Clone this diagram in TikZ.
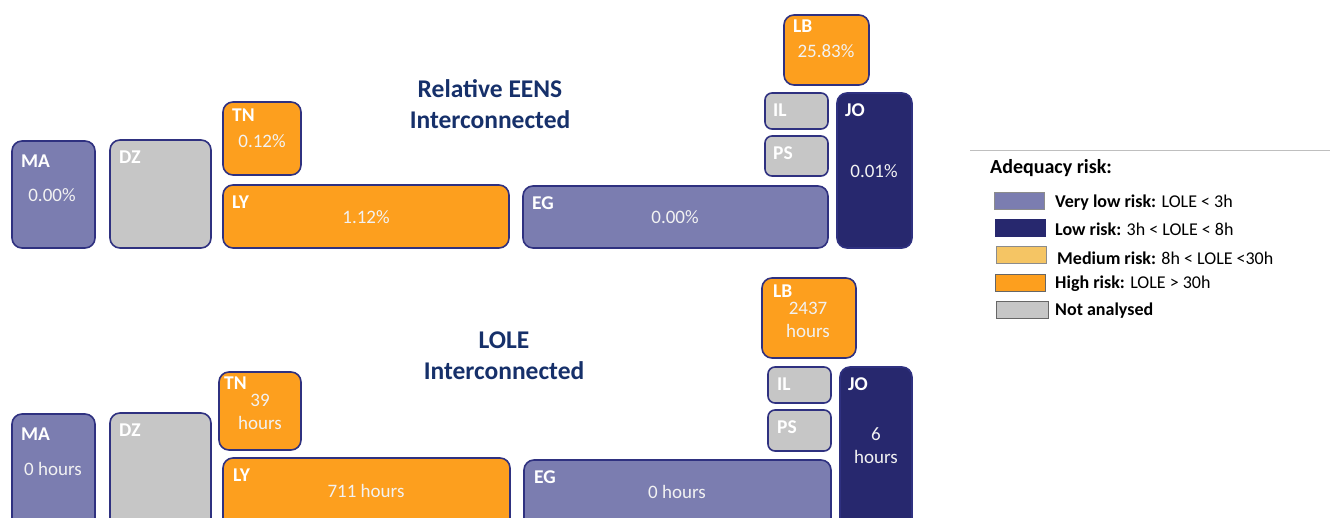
\documentclass[tikz,border=0pt]{standalone}
\usepackage{fontspec}
\setmainfont{Carlito}
\usepackage{tikz}
\definecolor{riskVeryLow}{HTML}{7B7DB0}
\definecolor{riskLow}{HTML}{27286E}
\definecolor{riskMedium}{HTML}{F5C564}
\definecolor{riskHigh}{HTML}{FD9F1E}
\definecolor{notAnalysed}{HTML}{C6C6C6}
\definecolor{tileEdge}{HTML}{2F3180}
\definecolor{titleNavy}{HTML}{16306A}
\tikzset{
  code/.style={anchor=west, inner sep=0pt, text=white, font=\bfseries\fontsize{19.5}{22}\selectfont},
  val/.style={inner sep=0pt, text=white!95!black, align=center, font=\fontsize{19}{23}\selectfont},
}

\begin{document}
\begin{tikzpicture}[x=1pt, y=-1pt,
  tile/.style={draw=tileEdge, line width=1.6pt, rounded corners=10pt, inner sep=0pt},
  ttl/.style={text=titleNavy, align=center, font=\bfseries\fontsize{25.5}{31}\selectfont},
  swatch/.style={draw=black!45, line width=0.8pt, inner sep=0pt, minimum width=50pt, minimum height=17pt},
  key/.style={anchor=west, inner sep=0pt, font=\fontsize{18}{21}\selectfont}]
  \useasboundingbox (0,0) rectangle (1330,518);
  \clip (0,0) rectangle (1330,518);
  % relative EENS
  \node[tile, fill=riskVeryLow, minimum width=83pt,  minimum height=107pt] (maE) at (53.5,194.5) {};
  \node[tile, fill=notAnalysed, minimum width=101pt, minimum height=108pt] (dzE) at (160.5,194) {};
  \node[tile, fill=riskHigh,    minimum width=78pt,  minimum height=73pt]  (tnE) at (262,138.5) {};
  \node[tile, fill=riskHigh,    minimum width=286pt, minimum height=63pt]  (lyE) at (366,216.5) {};
  \node[tile, fill=riskVeryLow, minimum width=305pt, minimum height=62pt]  (egE) at (675.5,217) {};
  \node[tile, fill=riskHigh,    minimum width=85pt,  minimum height=70pt]  (lbE) at (826.5,50) {};
  \node[tile, fill=notAnalysed, minimum width=63pt,  minimum height=36pt, rounded corners=7pt] (ilE) at (796.5,111) {};
  \node[tile, fill=notAnalysed, minimum width=63pt,  minimum height=40pt, rounded corners=7pt] (psE) at (796.5,156) {};
  \node[tile, fill=riskLow,     minimum width=75pt,  minimum height=155pt] (joE) at (874.5,170.5) {};
  \node[code] (maEc) at (21,161) {MA};
  \node[code] (dzEc) at (119,157) {DZ};
  \node[code] (tnEc) at (232,115) {TN};
  \node[code] (lyEc) at (232,202) {LY};
  \node[code] (egEc) at (532,203) {EG};
  \node[code] (lbEc) at (793,26) {LB};
  \node[code] (ilEc) at (773,110) {IL};
  \node[code] (psEc) at (773,153) {PS};
  \node[code] (joEc) at (845,110) {JO};
  \node[val] (maEv) at (52,195) {0.00\%};
  \node[val] (tnEv) at (262,141) {0.12\%};
  \node[val] (lyEv) at (366,217) {1.12\%};
  \node[val] (egEv) at (675,217) {0.00\%};
  \node[val] (lbEv) at (826,51) {25.83\%};
  \node[val] (joEv) at (874,171) {0.01\%};
  \node[ttl] (eensTitle) at (490,104.5) {Relative EENS\\Interconnected};
  % LOLE
  \node[tile, fill=riskVeryLow, minimum width=83pt,  minimum height=114pt] (maL) at (53.5,471) {};
  \node[tile, fill=notAnalysed, minimum width=101pt, minimum height=115pt] (dzL) at (160.5,470.5) {};
  \node[tile, fill=riskHigh,    minimum width=82pt,  minimum height=78pt]  (tnL) at (260,411) {};
  \node[tile, fill=riskHigh,    minimum width=287pt, minimum height=70pt]  (lyL) at (366.5,493) {};
  \node[tile, fill=riskVeryLow, minimum width=307pt, minimum height=68pt]  (egL) at (677.5,494) {};
  \node[tile, fill=riskHigh,    minimum width=94pt,  minimum height=80pt]  (lbL) at (809,318) {};
  \node[tile, fill=notAnalysed, minimum width=63pt,  minimum height=36pt, rounded corners=7pt] (ilL) at (799.5,385) {};
  \node[tile, fill=notAnalysed, minimum width=63pt,  minimum height=41pt, rounded corners=7pt] (psL) at (799.5,430.5) {};
  \node[tile, fill=riskLow,     minimum width=72pt,  minimum height=161pt] (joL) at (876,447.5) {};
  \node[code] (maLc) at (21,434) {MA};
  \node[code] (dzLc) at (119,430) {DZ};
  \node[code] (tnLc) at (224,383) {TN};
  \node[code] (lyLc) at (233,475) {LY};
  \node[code] (egLc) at (534,477) {EG};
  \node[code] (lbLc) at (773,291) {LB};
  \node[code] (ilLc) at (777,384) {IL};
  \node[code] (psLc) at (777,427) {PS};
  \node[code] (joLc) at (848,384) {JO};
  \node[val] (maLv) at (53,469) {0 hours};
  \node[val] (tnLv) at (260,411.5) {39\\hours};
  \node[val] (lyLv) at (366,491) {711 hours};
  \node[val] (egLv) at (677,492) {0 hours};
  \node[val] (lbLv) at (808,319.5) {2437\\hours};
  \node[val] (joLv) at (876,445.5) {6\\hours};
  \node[ttl] (loleTitle) at (504,355.5) {LOLE\\Interconnected};
  % legend
  \draw[black!25, line width=1pt] (970,151) -- (1330,151);
  \node[key, font=\bfseries\fontsize{20}{23}\selectfont] (keyHead) at (990,168) {Adequacy risk:};
  \node[swatch, fill=riskVeryLow] (swVL) at (1019,200.5) {};
  \node[swatch, fill=riskLow, draw=riskLow] (swL) at (1020.5,228) {};
  \node[swatch, fill=riskMedium] (swM) at (1021,255) {};
  \node[swatch, fill=riskHigh, draw=black!60] (swH) at (1020.5,283) {};
  \node[swatch, fill=notAnalysed, draw=black!60, minimum width=52pt] (swN) at (1022,310) {};
  \node[key] (keyVL) at (1055,203) {\textbf{Very low risk:} LOLE < 3h};
  \node[key] (keyL)  at (1055,229) {\textbf{Low risk:} 3h < LOLE < 8h};
  \node[key] (keyM)  at (1057,258) {\textbf{Medium risk:} 8h < LOLE <30h};
  \node[key] (keyH)  at (1055,284) {\textbf{High risk:} LOLE > 30h};
  \node[key] (keyN)  at (1055,311) {\textbf{Not analysed}};
\end{tikzpicture}
\end{document}
